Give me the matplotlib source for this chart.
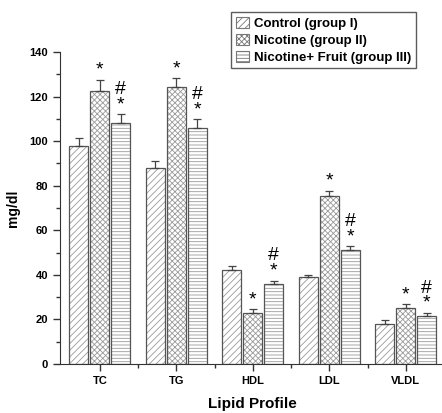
import numpy as np
import matplotlib.pyplot as plt

plt.rcParams['font.family'] = 'Liberation Sans'
plt.rcParams['hatch.linewidth'] = 0.6

# datos
categorias = ['TC', 'TG', 'HDL', 'LDL', 'VLDL']
grupos = ['Control (group I)', 'Nicotine (group II)', 'Nicotine+ Fruit (group III)']
control = [98, 88, 42.2, 38.9, 18.1]
control_err = [3.2, 3.0, 1.8, 1.2, 1.5]
nicotina = [122.5, 124.2, 22.9, 75.4, 25.1]
nicotina_err = [5.0, 4.0, 1.6, 2.3, 1.7]
fruta = [108, 105.7, 35.9, 51.1, 21.5]
fruta_err = [4.0, 4.1, 1.5, 1.8, 1.4]
marcas_nic = ['*', '*', '*', '*', '*']
marcas_fruta = ['#\n*', '#\n*', '#\n*', '#\n*', '#\n*']

fig = plt.figure(figsize=(4.42, 4.13), dpi=100)
ax = fig.add_axes([60/442, 49/413, 384/442, 312/413])

x = np.arange(len(categorias))
w = 0.25
d = 0.275
series = [(control, control_err, '/////'), (nicotina, nicotina_err, 'xxxxxx'), (fruta, fruta_err, '-----')]
barras = []
for i, (vals, errs, h) in enumerate(series):
    # relleno con trama gris claro y luego el contorno oscuro
    ax.bar(x + (i - 1) * d, vals, w, color='white', edgecolor='#9a9a9a', hatch=h, linewidth=0)
    ax.bar(x + (i - 1) * d, vals, w, color='none', edgecolor='#555555', linewidth=0.9)
    ax.errorbar(x + (i - 1) * d, vals, yerr=[np.zeros(len(vals)), errs], fmt='none',
                ecolor='#444444', elinewidth=0.9, capsize=3, capthick=0.9)
    # parche para la leyenda
    p = plt.Rectangle((0, 0), 1, 1, facecolor='white', edgecolor='#777777', hatch=h,
                      linewidth=0.8, label=grupos[i])
    barras.append(p)

# asteriscos y numerales
for k in range(len(categorias)):
    ax.text(x[k], nicotina[k] + nicotina_err[k] + 0.5, marcas_nic[k], ha='center', va='bottom',
            fontsize=14, linespacing=0.8)
    ax.text(x[k] + d, fruta[k] + fruta_err[k] + 0.5, marcas_fruta[k], ha='center', va='bottom',
            fontsize=14, linespacing=0.85)

ax.set_xlim(-0.52, 4.5)
ax.set_ylim(0, 140)
ax.set_yticks(np.arange(0, 141, 20))
ax.set_yticks(np.arange(10, 141, 20), minor=True)
ax.set_xticks(x)
ax.set_xticks(x[:-1] + 0.5, minor=True)
ax.set_xticklabels(categorias, fontweight='bold', fontsize=8)
for t in ax.get_yticklabels():
    t.set_fontweight('bold')
    t.set_fontsize(8)
ax.tick_params(which='both', direction='out', width=1, color='#333333')
ax.tick_params(which='major', length=5)
ax.tick_params(which='minor', length=3)
ax.spines['top'].set_visible(False)
ax.spines['right'].set_visible(False)
ax.spines['left'].set_color('#333333')
ax.spines['bottom'].set_color('#333333')
ax.set_ylabel('mg/dl', fontweight='bold', fontsize=10, labelpad=7)
ax.set_xlabel('Lipid Profile', fontweight='bold', fontsize=11, labelpad=8)

leg = fig.legend(handles=barras, loc='upper left', bbox_to_anchor=(231/442, 1 - 12/413),
                 frameon=True, fancybox=False, edgecolor='#333333', fontsize=9.5,
                 handlelength=1.0, handleheight=0.9, handletextpad=0.4, borderpad=0.35,
                 labelspacing=0.3, borderaxespad=0)
leg.get_frame().set_linewidth(1.0)
for t in leg.get_texts():
    t.set_fontweight('bold')

fig.savefig('out.png', dpi=100)
